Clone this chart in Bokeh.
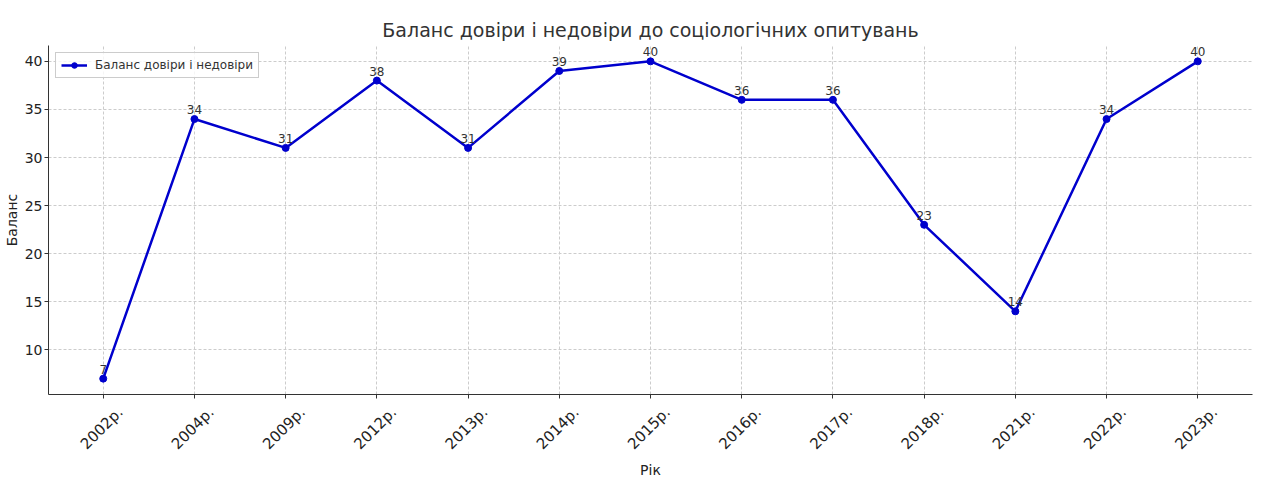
from math import pi
from bokeh.plotting import figure
from bokeh.models import (ColumnDataSource, Range1d, FixedTicker, Legend, LegendItem,
                          LabelSet, LinearAxis)
from bokeh.core.properties import value
from bokeh.embed import file_html
from bokeh.resources import INLINE

years = ["2002р.", "2004р.", "2009р.", "2012р.", "2013р.", "2014р.", "2015р.",
         "2016р.", "2017р.", "2018р.", "2021р.", "2022р.", "2023р."]
balance = [7, 34, 31, 38, 31, 39, 40, 36, 36, 23, 14, 34, 40]
y_ticks = [10, 15, 20, 25, 30, 35, 40]

FONT = "DejaVu Sans"
LINE = "#0000CD"

xs = list(range(len(years)))
span = max(balance) - min(balance)
y0, y1 = min(balance) - 0.05 * span, max(balance) + 0.05 * span
x0, x1 = -0.6, len(years) - 1 + 0.6

src = ColumnDataSource(dict(x=xs, y=balance, lbl=[str(v) for v in balance]))

FRAME_W = 1204
p = figure(frame_width=FRAME_W, frame_height=349, output_backend="svg", toolbar_location=None,
           x_range=Range1d(x0, x1), y_range=Range1d(y0, y1),
           min_border_left=0, min_border_right=10, min_border_top=45, min_border_bottom=2)

p.title.text = "Баланс довіри і недовіри до соціологічних опитувань"
p.title.align = "center"
p.title.text_font = FONT
p.title.text_font_size = "19px"
p.title.text_font_style = "normal"
p.title.text_color = "#333333"

line = p.line("x", "y", source=src, line_color=LINE, line_width=2.5)
dots = p.scatter("x", "y", source=src, size=7, fill_color=LINE, line_color=LINE)

labels = LabelSet(x="x", y="y", text="lbl", source=src, y_offset=5, text_align="center",
                  text_baseline="bottom", text_font=value(FONT), text_font_size="12px",
                  text_color="#333333")
p.add_layout(labels)

# main x axis: ticks only
p.xaxis.ticker = FixedTicker(ticks=xs)
p.xaxis.major_label_overrides = {i: "" for i in xs}
p.xaxis.major_label_standoff = 0
p.yaxis.ticker = FixedTicker(ticks=y_ticks)

# label axis: Bokeh right-aligns rotated labels at the tick; shift so that they
# are centred on the ticks, as in the reference
shift_px = 17
d = shift_px * (x1 - x0) / FRAME_W
p.extra_x_ranges = {"lbl": Range1d(x0 - d, x1 - d)}
lab_ax = LinearAxis(x_range_name="lbl", ticker=FixedTicker(ticks=xs),
                    major_label_overrides={i: y for i, y in enumerate(years)},
                    major_label_orientation=pi / 4, axis_line_color=None,
                    major_tick_line_color=None, minor_tick_line_color=None,
                    major_label_text_font=FONT, major_label_text_font_size="15px",
                    major_label_text_color="#222222", major_label_standoff=5,
                    axis_label="Рік", axis_label_text_font=FONT,
                    axis_label_text_font_size="14px", axis_label_text_font_style="normal",
                    axis_label_text_color="#222222", axis_label_standoff=0)
p.add_layout(lab_ax, "below")

for ax in (p.xaxis[0], p.yaxis[0]):
    ax.axis_line_color = "#333333"
    ax.major_tick_line_color = "#333333"
    ax.major_tick_out = 4
    ax.major_tick_in = 0
    ax.minor_tick_line_color = None
    ax.major_label_text_font = FONT
    ax.major_label_text_font_size = "14px"
    ax.major_label_text_color = "#222222"
    ax.axis_label_text_font = FONT
    ax.axis_label_text_font_size = "14px"
    ax.axis_label_text_font_style = "normal"
    ax.axis_label_text_color = "#222222"

p.yaxis.major_label_standoff = 2
p.yaxis.axis_label_standoff = 2
p.yaxis.axis_label = "Баланс"

p.grid.grid_line_color = "#cccccc"
p.grid.grid_line_dash = "3 2"
p.grid.grid_line_width = 1
p.outline_line_color = None

legend = Legend(items=[LegendItem(label="Баланс довіри і недовіри", renderers=[line, dots])],
                location="top_left", label_text_font=FONT, label_text_font_size="12px",
                label_text_color="#333333", border_line_color="#cccccc",
                border_line_alpha=1, background_fill_alpha=0.8, margin=7, padding=5,
                glyph_width=26, glyph_height=14, label_standoff=8, label_height=14)
p.add_layout(legend)

open("out.html", "w").write(file_html(p, INLINE))
